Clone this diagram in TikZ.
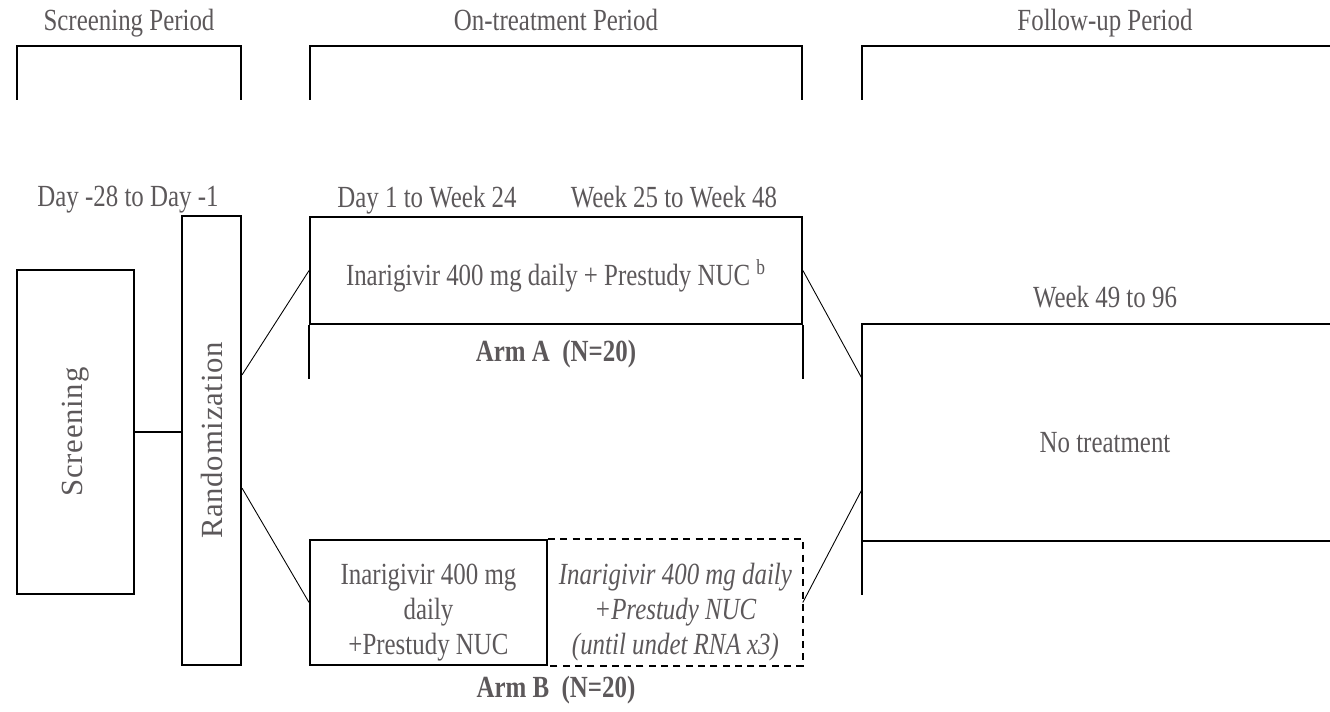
\documentclass[tikz,border=0pt]{standalone}
\usepackage{fontspec}
\setmainfont{Liberation Serif}[FakeStretch=0.81]
\newfontfamily\spacedfont{Liberation Serif}[LetterSpace=2.4]
\usepackage{graphicx}
\usetikzlibrary{positioning}
\definecolor{txtgray}{RGB}{92,88,90}

\begin{document}
\begin{tikzpicture}[x=0.02cm, y=-0.02cm,
    every node/.style={text=txtgray, font=\fontsize{17.5}{20}\selectfont},
    box/.style={draw=black, line width=1.1pt, inner sep=0pt, align=center},
    bracket/.style={draw=black, line width=1.1pt},
    link/.style={draw=black, line width=0.5pt},
    period/.style={anchor=base},
    armlabel/.style={anchor=base, font=\fontsize{17.5}{20}\selectfont\bfseries},
    vertlabel/.style={font=\fontsize{17.5}{20}\spacedfont}]

    \useasboundingbox (0,0) rectangle (1330,712);

    % --- Periodos (cabeceras y corchetes) ---
    \node[period] (hscr) at (129,31) {Screening Period};
    \node[period] (htrt) at (556,31) {On-treatment Period};
    \node[period] (hfup) at (1105,31) {Follow-up Period};

    \draw[bracket] (17,100) -- (17,46) -- (241,46) -- (241,100);
    \draw[bracket] (310,100) -- (310,46) -- (802,46) -- (802,100);
    \draw[bracket] (862,100) -- (862,46) -- (1330,46);

    % --- Ventanas de tiempo ---
    \node[period] (dscr) at (128,207) {Day -28 to Day -1};
    \node[period] (dtrt1) at (427,208) {Day 1 to Week 24};
    \node[period] (dtrt2) at (674,208) {Week 25 to Week 48};
    \node[period] (dfup) at (1105,308) {Week 49 to 96};

    % --- Screening y aleatorizacion ---
    \node[box, minimum width=2.34cm, minimum height=6.48cm] (scr) at (75.5,432)
        {\rotatebox{90}{\spacedfont Screening}};
    \node[box, minimum width=1.18cm, minimum height=8.98cm] (rand) at (211.5,440.5)
        {\rotatebox{90}{\spacedfont Randomization}};
    \draw[bracket] (scr.east) -- (scr.east -| rand.west);

    % --- Brazo A ---
    \node[box, minimum width=9.84cm, minimum height=2.14cm] (armA) at (556,270.5)
        {\raisebox{-0.1cm}[\height][\depth]{Inarigivir 400 mg daily + Prestudy NUC \textsuperscript{b}}};
    \draw[bracket] (armA.south west) -- ++(0,54);
    \draw[bracket] (armA.south east) -- ++(0,54);
    \node[armlabel] (labA) at (556,362) {Arm A\ \ (N=20)};

    % --- Brazo B ---
    \node[box, minimum width=4.74cm, minimum height=2.5cm] (armB1) at (428.5,602.5)
        {\raisebox{-0.2cm}[\height][\depth]{\begin{tabular}{@{}c@{}}Inarigivir 400 mg\\daily\\+Prestudy NUC\end{tabular}}};
    \node[box, draw=none, minimum width=5.06cm, minimum height=2.5cm, right=0pt of armB1,
          font=\fontsize{17.5}{20}\selectfont\itshape] (armB2)
        {\raisebox{-0.2cm}[\height][\depth]{\begin{tabular}{@{}c@{}}Inarigivir 400 mg daily\\+Prestudy NUC\\(until undet RNA x3)\end{tabular}}};
    \draw[bracket, dashed, dash pattern=on 4pt off 3pt] (armB2.north west) -- (armB2.north east) -- (armB2.south east) -- (armB2.south west);
    \node[armlabel] (labB) at (556,698) {Arm B\ \ (N=20)};

    % --- Seguimiento ---
    \node[minimum width=9.72cm, minimum height=4.34cm, inner sep=0pt] (fup) at (1105,432.5)
        {\raisebox{-0.2cm}[\height][\depth]{No treatment}};
    \draw[bracket] (fup.north east) -- (fup.north west) -- ++(0,271);
    \draw[bracket] (fup.south west) -- (fup.south east);

    % --- Conexiones ---
    \draw[link] ([yshift=1.31cm]rand.east) -- (armA.west);
    \draw[link] ([yshift=-0.95cm]rand.east) -- (armB1.west);
    \draw[link] (armA.east) -- ([yshift=1.09cm]fup.west);
    \draw[link] (armB2.east) -- ([yshift=-1.15cm]fup.west);

\end{tikzpicture}
\end{document}
